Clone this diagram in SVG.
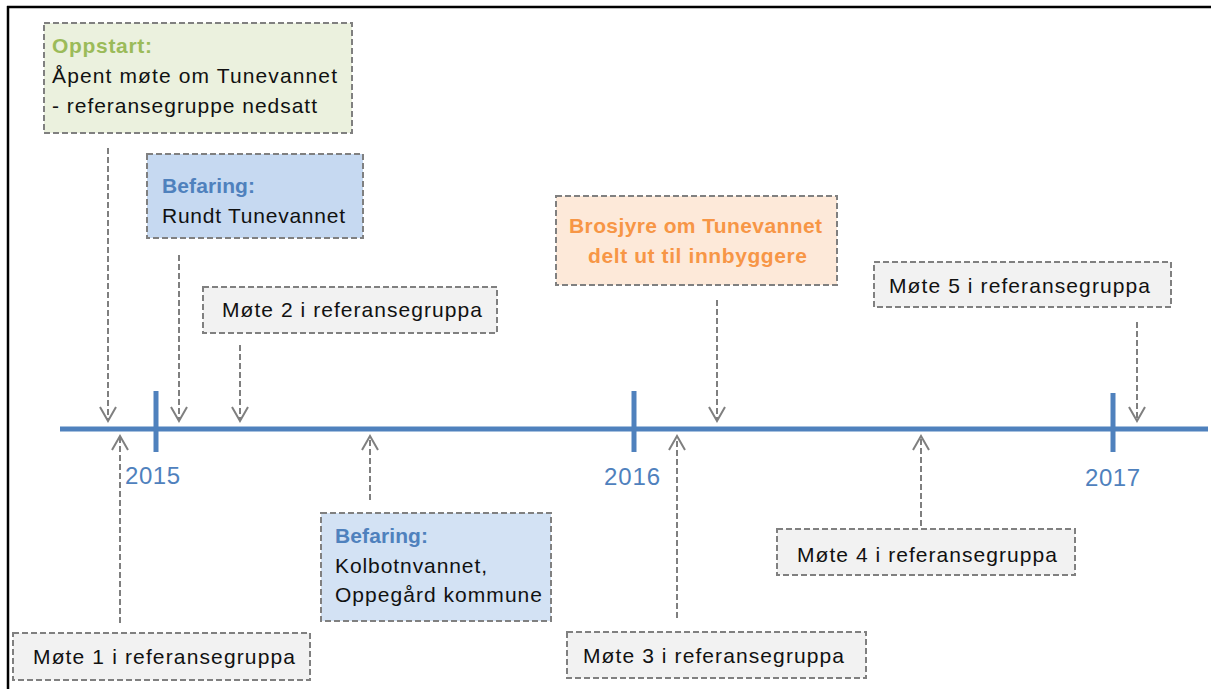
<svg xmlns="http://www.w3.org/2000/svg" width="1211" height="689" viewBox="0 0 1211 689">
<defs>
<marker id="arr" markerUnits="userSpaceOnUse" markerWidth="20" markerHeight="20" viewBox="-16 -10 18 20" refX="0" refY="0" orient="auto">
<path d="M-14,-8 L0,0 L-14,8" fill="none" stroke="#7F7F7F" stroke-width="2" stroke-dasharray="none"/>
</marker>
<style>
.box{stroke:#808080;stroke-width:2;stroke-dasharray:6 3}
.t{font-family:"Liberation Sans",Arial,sans-serif;font-size:21px;fill:#111}
.b{font-weight:bold}
.yr{font-family:"Liberation Sans",Arial,sans-serif;font-size:24px;fill:#4F81BD}
.con{stroke:#7F7F7F;stroke-width:2;stroke-dasharray:6 3;fill:none}
</style>
</defs>
<rect width="1211" height="689" fill="#fff"/>
<g id="frame" stroke="#000" stroke-width="2.5">
<line x1="8" y1="6" x2="8" y2="689"/>
<line x1="7" y1="7" x2="1211" y2="7"/>
</g>
<g id="timeline" stroke="#4F81BD" stroke-width="5">
<line x1="60" y1="429" x2="1208" y2="429"/>
<line x1="156" y1="391" x2="156" y2="452"/>
<line x1="634" y1="391" x2="634" y2="452"/>
<line x1="1113" y1="393" x2="1113" y2="452"/>
</g>
<g id="years">
<text class="yr" x="125" y="484" textLength="55">2015</text>
<text class="yr" x="604" y="485" textLength="56">2016</text>
<text class="yr" x="1085" y="486" textLength="55">2017</text>
</g>
<g id="connectors">
<line class="con" x1="108" y1="148" x2="108" y2="421" marker-end="url(#arr)"/>
<line class="con" x1="179" y1="255" x2="179" y2="421" marker-end="url(#arr)"/>
<line class="con" x1="240" y1="345" x2="240" y2="421" marker-end="url(#arr)"/>
<line class="con" x1="717" y1="300" x2="717" y2="421" marker-end="url(#arr)"/>
<line class="con" x1="1137" y1="322" x2="1137" y2="421" marker-end="url(#arr)"/>
<line class="con" x1="120" y1="623" x2="120" y2="436" marker-end="url(#arr)"/>
<line class="con" x1="370" y1="500" x2="370" y2="436" marker-end="url(#arr)"/>
<line class="con" x1="677" y1="618" x2="677" y2="436" marker-end="url(#arr)"/>
<line class="con" x1="921" y1="526" x2="921" y2="436" marker-end="url(#arr)"/>
</g>
<g id="oppstart">
<rect class="box" x="44" y="23" width="308" height="110" fill="#EBF1DE"/>
<text class="t b" x="52" y="53" textLength="100" style="fill:#9BBB59">Oppstart:</text>
<text class="t" x="52" y="83" textLength="285">Åpent møte om Tunevannet</text>
<text class="t" x="52" y="113" textLength="265">- referansegruppe nedsatt</text>
</g>
<g id="befaring-rundt">
<rect class="box" x="147" y="154" width="216" height="84" fill="#C6D9F1"/>
<text class="t b" x="162" y="193" textLength="93" style="fill:#4F81BD">Befaring:</text>
<text class="t" x="162" y="223" textLength="183">Rundt Tunevannet</text>
</g>
<g id="mote2">
<rect class="box" x="203" y="287" width="294" height="46" fill="#F2F2F2"/>
<text class="t" x="222" y="317" textLength="260">Møte 2 i referansegruppa</text>
</g>
<g id="brosjyre">
<rect class="box" x="556" y="196" width="281" height="89" fill="#FDE9D9"/>
<text class="t b" x="569" y="233" textLength="253" style="fill:#F79646">Brosjyre om Tunevannet</text>
<text class="t b" x="588" y="263" textLength="219" style="fill:#F79646">delt ut til innbyggere</text>
</g>
<g id="mote5">
<rect class="box" x="874" y="262" width="297" height="45" fill="#F2F2F2"/>
<text class="t" x="889" y="293" textLength="261">Møte 5 i referansegruppa</text>
</g>
<g id="befaring-kolbotn">
<rect class="box" x="321" y="513" width="230" height="108" fill="#D3E2F4"/>
<text class="t b" x="335" y="543" textLength="93" style="fill:#4F81BD">Befaring:</text>
<text class="t" x="335" y="573" textLength="152">Kolbotnvannet,</text>
<text class="t" x="335" y="602" textLength="207">Oppegård kommune</text>
</g>
<g id="mote1">
<rect class="box" x="13" y="633" width="297" height="47" fill="#F2F2F2"/>
<text class="t" x="33" y="664" textLength="262">Møte 1 i referansegruppa</text>
</g>
<g id="mote3">
<rect class="box" x="567" y="632" width="299" height="46" fill="#F2F2F2"/>
<text class="t" x="583" y="663" textLength="261">Møte 3 i referansegruppa</text>
</g>
<g id="mote4">
<rect class="box" x="777" y="529" width="298" height="46" fill="#F2F2F2"/>
<text class="t" x="797" y="562" textLength="260">Møte 4 i referansegruppa</text>
</g>
</svg>
